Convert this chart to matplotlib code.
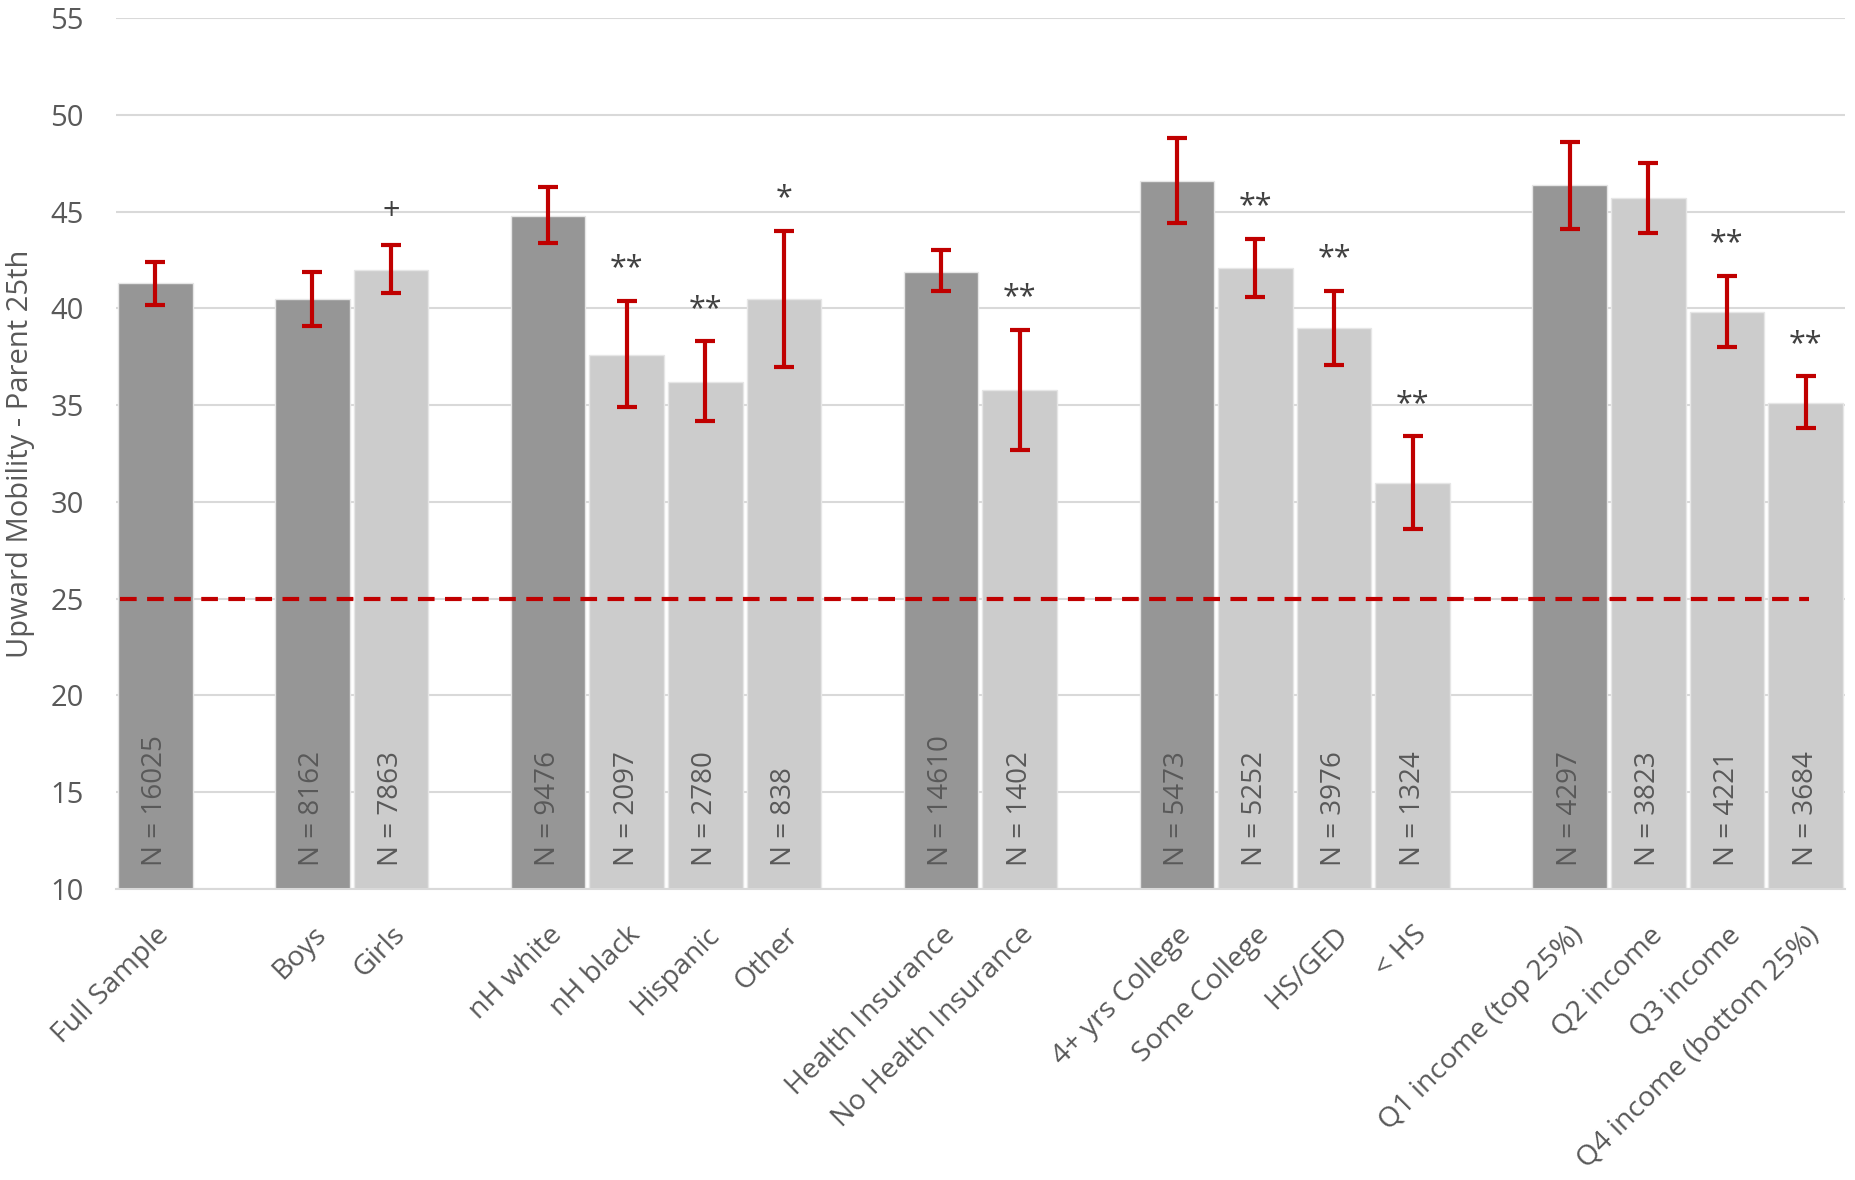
import numpy as np
import matplotlib
matplotlib.use('Agg')
import matplotlib.pyplot as plt

plt.rcParams['font.family'] = ['Open Sans', 'DejaVu Sans']

# データ（空文字のカテゴリはグループ間の隙間）
categories = ['Full Sample', '', 'Boys', 'Girls', '', 'nH white', 'nH black', 'Hispanic', 'Other', '',
              'Health Insurance', 'No Health Insurance', '', '4+ yrs College', 'Some College', 'HS/GED', '< HS', '',
              'Q1 income (top 25%)', 'Q2 income', 'Q3 income', 'Q4 income (bottom 25%)']
values = [41.3, None, 40.5, 42.0, None, 44.8, 37.6, 36.2, 40.5, None,
          41.9, 35.8, None, 46.6, 42.1, 39.0, 31.0, None,
          46.4, 45.7, 39.8, 35.1]
err_hi = [42.4, None, 41.9, 43.3, None, 46.3, 40.4, 38.3, 44.0, None,
          43.0, 38.9, None, 48.8, 43.6, 40.9, 33.4, None,
          48.6, 47.5, 41.7, 36.5]
err_lo = [40.2, None, 39.1, 40.8, None, 43.4, 34.9, 34.2, 37.0, None,
          40.9, 32.7, None, 44.4, 40.6, 37.1, 28.6, None,
          44.1, 43.9, 38.0, 33.8]
n_labels = ['16025', '', '8162', '7863', '', '9476', '2097', '2780', '838', '',
            '14610', '1402', '', '5473', '5252', '3976', '1324', '',
            '4297', '3823', '4221', '3684']
sig = ['', '', '', '+', '', '', '**', '**', '*', '',
       '', '**', '', '', '**', '**', '**', '',
       '', '', '**', '**']
reference = [1, 0, 1, 0, 0, 1, 0, 0, 0, 0, 1, 0, 0, 1, 0, 0, 0, 0, 1, 0, 0, 0]  # 基準カテゴリ（濃いグレー）
baseline = 25

dark, light = '#969696', '#cccccc'
red = '#c00000'
txt = '#595959'

fig = plt.figure(figsize=(18.55, 11.8), dpi=100)
ax = fig.add_axes([0.0625, 0.2466, 0.932, 0.738])

x = np.arange(len(categories))
for i, v in enumerate(values):
    if v is None:
        continue
    ax.bar(x[i], v - 10, bottom=10, width=0.95, color=dark if reference[i] else light,
           edgecolor='#e6e6e6', linewidth=1, zorder=2)
    ax.errorbar(x[i], v, yerr=[[v - err_lo[i]], [err_hi[i] - v]], fmt='none',
                ecolor=red, elinewidth=3, capsize=7, capthick=3, zorder=3)
    ax.text(x[i], 11.2, 'N = ' + n_labels[i], rotation=90, ha='center', va='bottom',
            fontsize=20, color=txt, zorder=4)
    if sig[i]:
        ax.text(x[i], err_hi[i] + 0.9, sig[i], ha='center', va='bottom',
                fontsize=22, color='#404040', zorder=4)

# 基準線（親の25パーセンタイル）
ax.plot([-0.45, 21.05], [baseline, baseline], color=red, lw=3, ls=(0, (4, 2.5)), zorder=4)

ax.set_xlim(-0.5, len(categories) - 0.5)
ax.set_ylim(10, 55)
ax.set_yticks(np.arange(10, 56, 5))
ax.yaxis.grid(True, color='#d9d9d9', lw=1.5, zorder=0)
ax.set_axisbelow(True)
for s in ['top', 'right', 'left']:
    ax.spines[s].set_visible(False)
ax.spines['bottom'].set_color('#d9d9d9')
ax.spines['bottom'].set_linewidth(1.5)
ax.tick_params(axis='y', length=0, labelsize=21, labelcolor=txt, pad=23)
ax.tick_params(axis='x', length=0, labelsize=20.5, labelcolor=txt, pad=23)
ax.set_xticks(x)
ax.set_xticklabels(categories, rotation=45, ha='right', rotation_mode='anchor')
ax.set_ylabel('Upward Mobility - Parent 25th', fontsize=21, color=txt)
ax.yaxis.set_label_coords(-0.047, 0.5)

fig.savefig('out.png', dpi=100)
